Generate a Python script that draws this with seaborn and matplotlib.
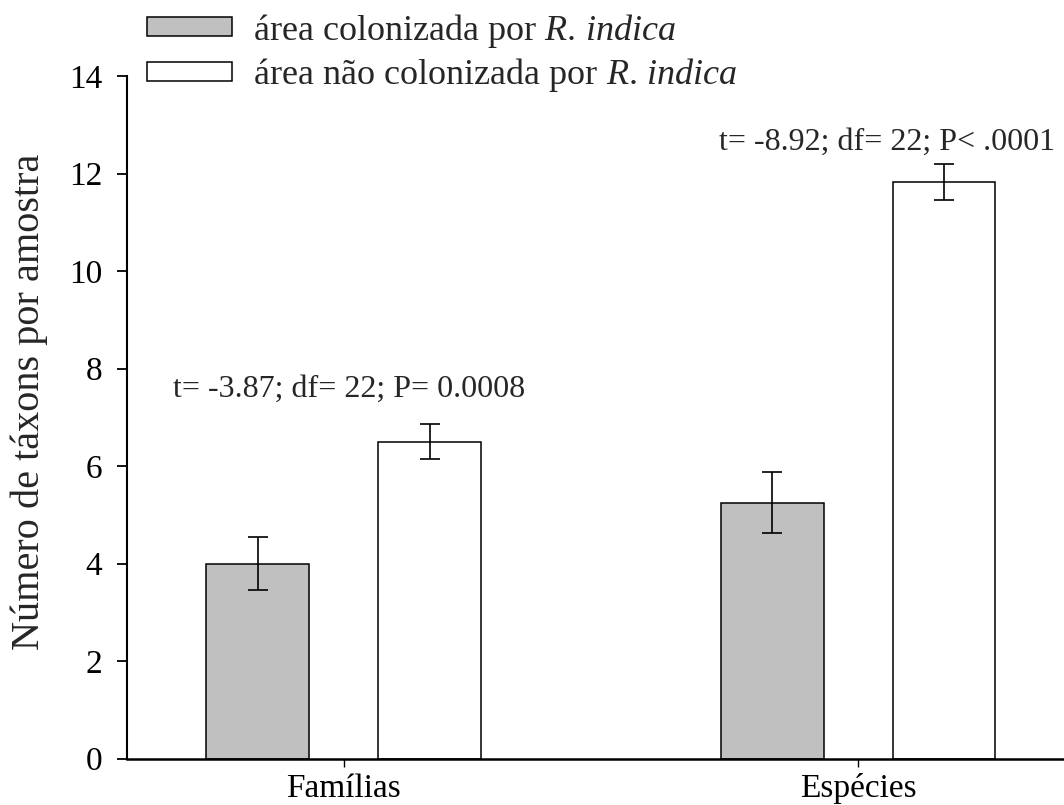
import matplotlib
matplotlib.use("Agg")
import matplotlib.pyplot as plt
import matplotlib.patches as mpatches
import seaborn as sns
import pandas as pd

# Mean number of taxa per sample and standard errors
categorias = ["Famílias", "Espécies"]
areas = ["colonizada", "não colonizada"]
media_colonizada = [4.0, 5.25]
erro_colonizada = [0.54, 0.63]
media_nao_colonizada = [6.5, 11.83]
erro_nao_colonizada = [0.36, 0.37]
rotulos_legenda = [
    r"área colonizada por $\it{R.\,indica}$",
    r"área não colonizada por $\it{R.\,indica}$",
]
testes = ["t= -3.87; df= 22; P= 0.0008", "t= -8.92; df= 22; P< .0001"]
yticks = [0, 2, 4, 6, 8, 10, 12, 14]

sns.set_theme(style="ticks")
plt.rcParams["font.family"] = ["Liberation Serif", "DejaVu Serif"]
plt.rcParams["mathtext.fontset"] = "custom"
plt.rcParams["mathtext.rm"] = "Liberation Serif"
plt.rcParams["mathtext.it"] = "Liberation Serif:italic"

df = pd.DataFrame({
    "categoria": categorias * 2,
    "area": [areas[0]] * 2 + [areas[1]] * 2,
    "media": media_colonizada + media_nao_colonizada,
})
erros = {areas[0]: erro_colonizada, areas[1]: erro_nao_colonizada}

cores = ["#c0c0c0", "#ffffff"]

fig = plt.figure(figsize=(10.64, 8.05), dpi=100)
ax = fig.add_axes([0.1195, 0.0575, 0.8805, 0.848])

sns.barplot(data=df, x="categoria", y="media", hue="area",
            order=categorias, hue_order=areas, palette=cores,
            edgecolor="black", linewidth=1.1, width=0.667, gap=0.4,
            errorbar=None, legend=False, saturation=1, ax=ax)

# standard error bars on top of each bar
for area, cont in zip(areas, ax.containers):
    for barra, e in zip(cont.patches, erros[area]):
        xc = barra.get_x() + barra.get_width() / 2
        ax.errorbar(xc, barra.get_height(), yerr=e, fmt="none",
                    ecolor="black", elinewidth=1.2, capsize=7, capthick=1.2)

ax.set_xlim(-0.421, 1.4)
ax.set_ylim(0, 14)
ax.set_yticks(yticks)
ax.set_xlabel("")
ax.set_ylabel("Número de táxons por amostra", fontsize=29)
ax.yaxis.set_label_coords(-0.085, 0.523)
ax.tick_params(axis="y", labelsize=24, length=7, width=1.3, pad=11, colors="black")
ax.tick_params(axis="x", labelsize=24, length=5.5, width=1.0, pad=5, colors="black")
for s in ["top", "right"]:
    ax.spines[s].set_visible(False)
ax.spines["left"].set_linewidth(1.5)
ax.spines["bottom"].set_linewidth(1.8)
ax.spines["left"].set_color("black")
ax.spines["bottom"].set_color("black")

ax.text(0.01, 7.58, testes[0], ha="center", va="center", fontsize=23)
ax.text(1.056, 12.65, testes[1], ha="center", va="center", fontsize=23)

handles = [mpatches.Patch(facecolor=c, edgecolor="black", linewidth=1.1) for c in cores]
fig.legend(handles, rotulos_legenda, loc="upper left",
           bbox_to_anchor=(0.1145, 1.017), frameon=False, fontsize=26,
           handlelength=2.36, handleheight=0.42, handletextpad=0.58,
           labelspacing=0.18, borderpad=0.2)

fig.savefig("out.png", dpi=100)
